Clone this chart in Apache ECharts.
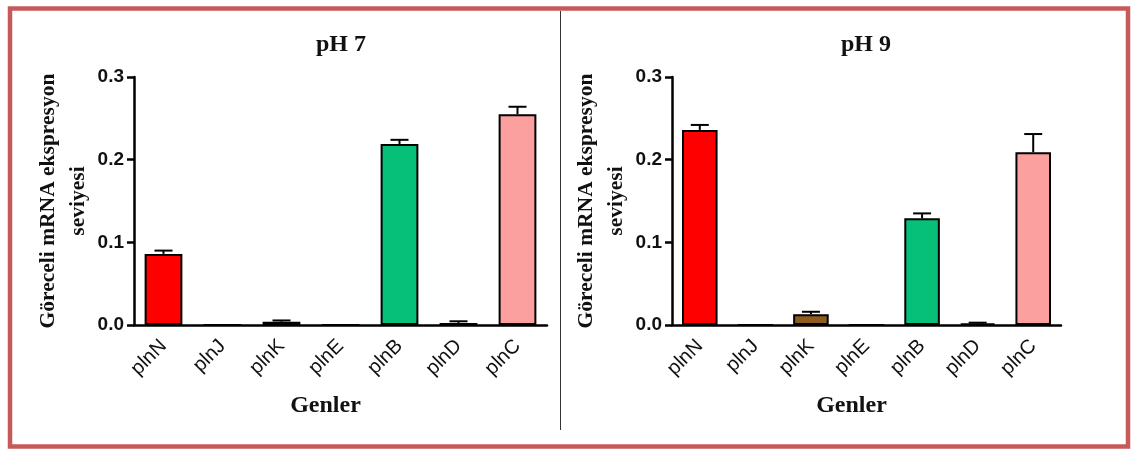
<!DOCTYPE html>
<html>
<head>
<meta charset="utf-8">
<script src="https://cdn.jsdelivr.net/npm/echarts@6/dist/echarts.min.js"></script>
<style>
  html, body { margin: 0; padding: 0; background: #fff; }
  #chart { width: 1131px; height: 450px; }
</style>
</head>
<body>
<div id="chart"></div>
<script>
// genler (x kategorileri)
var categories = ['plnN', 'plnJ', 'plnK', 'plnE', 'plnB', 'plnD', 'plnC'];
var yTicks = [0, 0.1, 0.2, 0.3];

// pH 7
var ph7Values = [0.086, 0, 0.004, 0, 0.219, 0.0025, 0.255];
var ph7Errors = [0.004, 0, 0.0015, 0, 0.005, 0.002, 0.009];

// pH 9
var ph9Values = [0.236, 0, 0.013, 0, 0.129, 0.002, 0.209];
var ph9Errors = [0.006, 0, 0.003, 0, 0.006, 0.0008, 0.022];

var barColors = ['#ff0000', '#7f7f7f', '#8f5c1f', '#7f7f7f', '#06bf78', '#444444', '#fb9f9f'];

var serif = "'Liberation Serif', 'Times New Roman', serif";
var sans = "'Liberation Sans', Arial, sans-serif";

function barData(vals){
    var out = [];
    for (var i = 0; i < vals.length; i++){
        out.push({ value: vals[i], itemStyle: { color: barColors[i] } });
    }
    return out;
}

function errData(vals, errs){
    var out = [];
    for (var i = 0; i < vals.length; i++){
        if (errs[i] > 0) out.push([i, vals[i], errs[i]]);
    }
    return out;
}

function renderErr(params, api){
    var i = api.value(0), v = api.value(1), e = api.value(2);
    var top = api.coord([i, v + e]);
    var base = api.coord([i, v]);
    var hw = 9;
    var st = { stroke: '#000', lineWidth: 2 };
    return {
        type: 'group',
        children: [
            { type: 'line', shape: { x1: top[0], y1: top[1], x2: base[0], y2: base[1] }, style: st },
            { type: 'line', shape: { x1: top[0] - hw, y1: top[1], x2: top[0] + hw, y2: top[1] }, style: st }
        ]
    };
}

function xAxisFor(idx){
    return {
        type: 'category',
        gridIndex: idx,
        data: categories,
        name: 'Genler',
        nameLocation: 'middle',
        nameGap: 69,
        nameTextStyle: { fontFamily: serif, fontWeight: 'bold', fontSize: 24, color: '#111', padding: [0, 30, 0, 0] },
        axisLine: { lineStyle: { color: '#000', width: 2.5 } },
        axisTick: { alignWithLabel: true, length: 7, lineStyle: { color: '#000', width: 2.5 } },
        axisLabel: { rotate: 45, margin: 18, fontFamily: sans, fontSize: 20, color: '#111' },
        splitLine: { show: false }
    };
}

function yAxisFor(idx, gap){
    return {
        type: 'value',
        gridIndex: idx,
        min: yTicks[0],
        max: yTicks[yTicks.length - 1],
        interval: 0.1,
        name: 'Göreceli mRNA ekspresyon\nseviyesi',
        nameLocation: 'middle',
        nameRotate: 90,
        nameGap: gap,
        nameTextStyle: { fontFamily: serif, fontWeight: 'bold', fontSize: 21.5, lineHeight: 30, color: '#111' },
        axisLine: { show: true, lineStyle: { color: '#000', width: 2.5 } },
        axisTick: { show: true, length: 7, lineStyle: { color: '#000', width: 2.5 } },
        axisLabel: {
            margin: 10, fontFamily: sans, fontWeight: 'bold', fontSize: 19, color: '#111',
            formatter: function(v){ return v.toFixed(1); }
        },
        splitLine: { show: false }
    };
}

var myChart = echarts.init(document.getElementById('chart'), null, { renderer: 'canvas' });

var option = {
    backgroundColor: '#fff',
    animation: false,
    title: [
        { text: 'pH 7', left: 336, top: 28, textAlign: 'center',
          textStyle: { fontFamily: serif, fontWeight: 'bold', fontSize: 24, color: '#111' } },
        { text: 'pH 9', left: 861, top: 28, textAlign: 'center',
          textStyle: { fontFamily: serif, fontWeight: 'bold', fontSize: 24, color: '#111' } }
    ],
    grid: [
        { left: 134, top: 77, width: 413, height: 248 },
        { left: 672, top: 77, width: 389, height: 248 }
    ],
    xAxis: [xAxisFor(0), xAxisFor(1)],
    yAxis: [yAxisFor(0, 41), yAxisFor(1, 38)],
    graphic: [
        { type: 'rect', shape: { x: 10, y: 8.5, width: 1118, height: 438 },
          style: { fill: 'none', stroke: '#c65a5a', lineWidth: 4.5 }, z: 100 },
        { type: 'line', shape: { x1: 560.5, y1: 11, x2: 560.5, y2: 430 },
          style: { stroke: '#333', lineWidth: 1 }, z: 100 }
    ],
    series: [
        { type: 'bar', xAxisIndex: 0, yAxisIndex: 0, barWidth: '64%', data: barData(ph7Values),
          itemStyle: { borderColor: '#000', borderWidth: 2 } },
        { type: 'custom', xAxisIndex: 0, yAxisIndex: 0, renderItem: renderErr, data: errData(ph7Values, ph7Errors), z: 5 },
        { type: 'bar', xAxisIndex: 1, yAxisIndex: 1, barWidth: '64%', data: barData(ph9Values),
          itemStyle: { borderColor: '#000', borderWidth: 2 } },
        { type: 'custom', xAxisIndex: 1, yAxisIndex: 1, renderItem: renderErr, data: errData(ph9Values, ph9Errors), z: 5 }
    ]
};

myChart.setOption(option);
</script>
</body>
</html>
